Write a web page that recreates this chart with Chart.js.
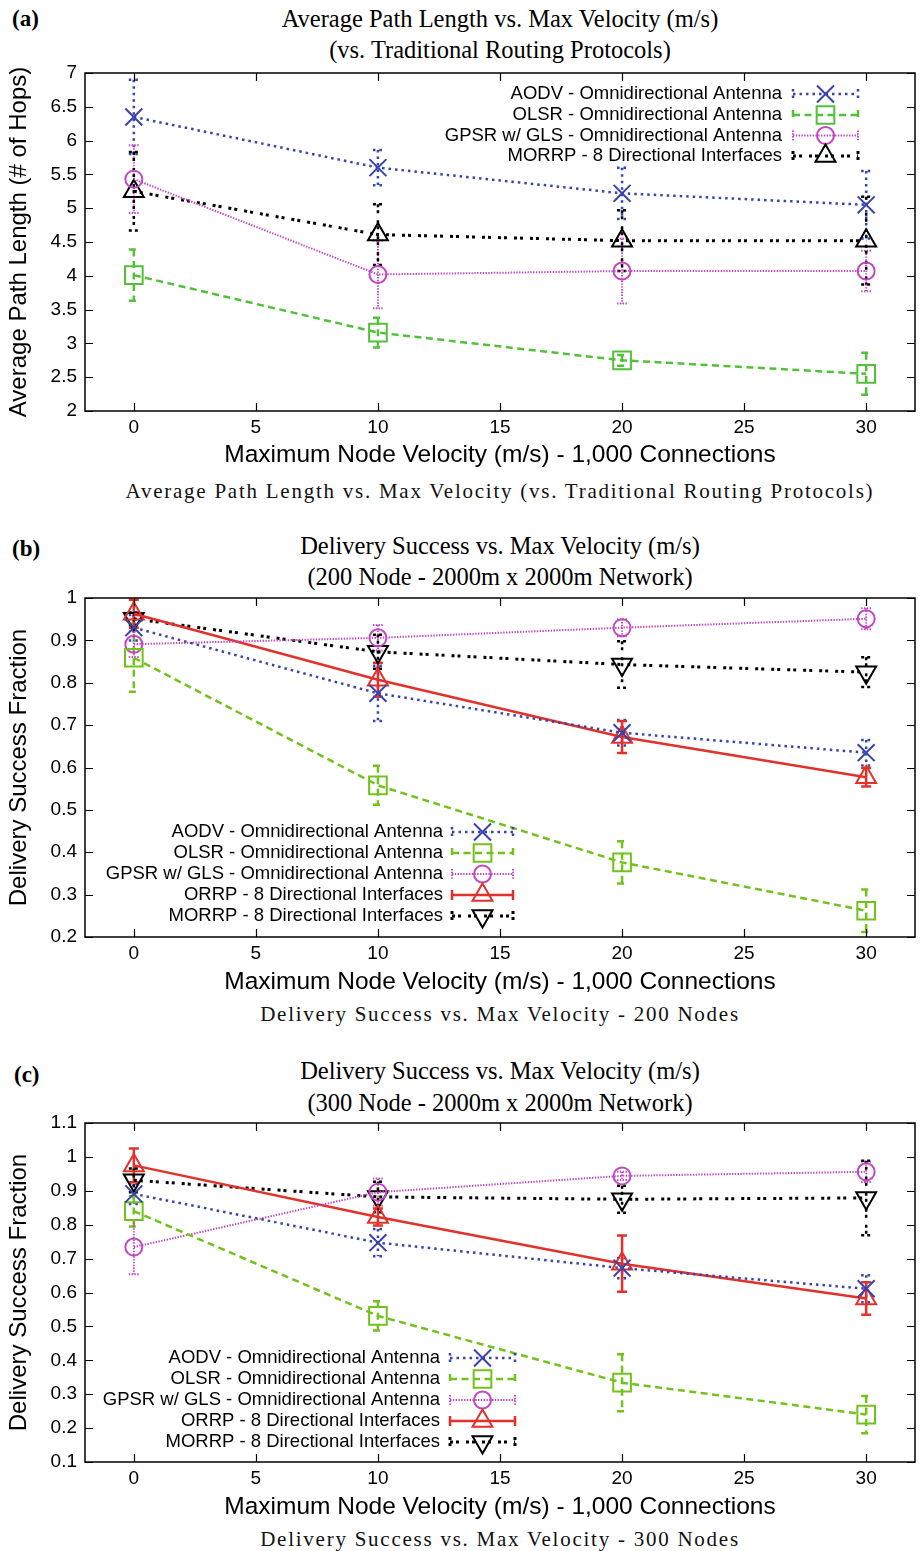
<!DOCTYPE html>
<html><head><meta charset="utf-8">
<script src="https://cdn.jsdelivr.net/npm/chart.js@4.4.1/dist/chart.umd.min.js"></script>
<style>
body{margin:0;width:920px;height:1551px;background:#fff;position:relative;overflow:hidden}
.tt{position:absolute;left:100px;width:800px;text-align:center;font-family:"Liberation Serif",serif;font-size:24.5px;line-height:30px;color:#000;white-space:nowrap}
.pl{position:absolute;font-family:"Liberation Serif",serif;font-weight:bold;font-size:23px;line-height:30px;color:#000}
.cap{position:absolute;left:100px;width:800px;text-align:center;font-family:"Liberation Serif",serif;font-size:21px;line-height:30px;letter-spacing:1.75px;color:#111;white-space:nowrap}
.cw{position:absolute;left:0;width:920px}
</style></head>
<body>
<div class="pl" style="left:12px;top:4px">(a)</div>
<div class="tt" style="top:4px">Average Path Length vs. Max Velocity (m/s)</div>
<div class="tt" style="top:35px">(vs. Traditional Routing Protocols)</div>
<div class="cw" style="top:62px;height:410px"><canvas id="ca" width="920" height="410"></canvas></div>
<div class="cap" style="top:476px">Average Path Length vs. Max Velocity (vs. Traditional Routing Protocols)</div>

<div class="pl" style="left:12px;top:534px">(b)</div>
<div class="tt" style="top:531px">Delivery Success vs. Max Velocity (m/s)</div>
<div class="tt" style="top:562px">(200 Node - 2000m x 2000m Network)</div>
<div class="cw" style="top:587px;height:412px"><canvas id="cb" width="920" height="412"></canvas></div>
<div class="cap" style="top:999px">Delivery Success vs. Max Velocity - 200 Nodes</div>

<div class="pl" style="left:14px;top:1060px">(c)</div>
<div class="tt" style="top:1056px">Delivery Success vs. Max Velocity (m/s)</div>
<div class="tt" style="top:1088px">(300 Node - 2000m x 2000m Network)</div>
<div class="cw" style="top:1112px;height:412px"><canvas id="cc" width="920" height="412"></canvas></div>
<div class="cap" style="top:1524px">Delivery Success vs. Max Velocity - 300 Nodes</div>

<script>
// ---------- data ----------
const xVals = [0, 10, 20, 30];
const xTicks = [0, 5, 10, 15, 20, 25, 30];
const aYTicks = [2, 2.5, 3, 3.5, 4, 4.5, 5, 5.5, 6, 6.5, 7];
const bYTicks = [0.2, 0.3, 0.4, 0.5, 0.6, 0.7, 0.8, 0.9, 1];
const cYTicks = [0.1, 0.2, 0.3, 0.4, 0.5, 0.6, 0.7, 0.8, 0.9, 1, 1.1];

const nameAodv = 'AODV - Omnidirectional Antenna';
const nameOlsr = 'OLSR - Omnidirectional Antenna';
const nameGpsr = 'GPSR w/ GLS - Omnidirectional Antenna';
const nameOrrp = 'ORRP - 8 Directional Interfaces';
const nameMorrp = 'MORRP - 8 Directional Interfaces';

// panel (a): average path length
const aAodv = [6.35, 5.60, 5.22, 5.05];
const aAodvErr = [0.55, 0.26, 0.38, 0.50];
const aOlsr = [4.01, 3.16, 2.75, 2.55];
const aOlsrErr = [0.38, 0.22, 0.08, 0.31];
const aGpsr = [5.43, 4.02, 4.07, 4.07];
const aGpsrErr = [0.50, 0.50, 0.48, 0.30];
const aMorrp = [5.25, 4.61, 4.52, 4.52];
const aMorrpErr = [0.58, 0.45, 0.45, 0.65];

// panel (b): delivery success, 200 nodes
const bAodv = [0.930, 0.775, 0.682, 0.635];
const bAodvErr = [0.030, 0.065, 0.030, 0.030];
const bOlsr = [0.859, 0.558, 0.376, 0.262];
const bOlsrErr = [0.080, 0.046, 0.050, 0.050];
const bGpsr = [0.891, 0.906, 0.930, 0.951];
const bGpsrErr = [0.030, 0.030, 0.020, 0.025];
const bOrrp = [0.963, 0.807, 0.672, 0.577];
const bOrrpErr = [0.033, 0.040, 0.038, 0.022];
const bMorrp = [0.951, 0.873, 0.843, 0.825];
const bMorrpErr = [0.015, 0.040, 0.055, 0.035];

// panel (c): delivery success, 300 nodes
const cAodv = [0.891, 0.747, 0.672, 0.611];
const cAodvErr = [0.030, 0.040, 0.030, 0.040];
const cOlsr = [0.840, 0.531, 0.334, 0.240];
const cOlsrErr = [0.045, 0.043, 0.084, 0.055];
const cGpsr = [0.734, 0.896, 0.944, 0.956];
const cGpsrErr = [0.080, 0.040, 0.012, 0.030];
const cOrrp = [0.975, 0.823, 0.685, 0.582];
const cOrrpErr = [0.050, 0.025, 0.083, 0.048];
const cMorrp = [0.931, 0.882, 0.875, 0.879];
const cMorrpErr = [0.035, 0.045, 0.040, 0.110];

// ---------- styles ----------
const SANS = '"Liberation Sans", Arial, sans-serif';
const stAodv = {color:'#3843ab', dash:[2.5,4], width:2.5, point:'crossRot', r:12, rot:0};
const stOlsrA = {color:'#52c13a', dash:[7,4.5], width:2.5, point:'rect', r:12.5, rot:0};
const stOlsrB = {color:'#72c21c', dash:[7,4.5], width:2.5, point:'rect', r:12.5, rot:0};
const stGpsr = {color:'#c247c2', dash:[1.4,1.4], width:2, point:'circle', r:8.5, rot:0};
const stOrrp = {color:'#e2312b', dash:[], width:2.5, point:'triangle', r:11.5, rot:0};
const stMorrpUp = {color:'#000000', dash:[3,3,3,7], width:3, point:'triangle', r:11.5, rot:0};
const stMorrpDown = {color:'#000000', dash:[3,3,3,7], width:3, point:'triangle', r:11.5, rot:180};

function ds(label, vals, errs, st) {
  return {
    label, data: xVals.map((x, i) => ({x, y: vals[i]})), err: errs, st,
    borderColor: st.color, borderWidth: st.width, borderDash: st.dash, borderCapStyle:'butt',
    pointStyle: st.point, pointRadius: st.r, pointRotation: st.rot, pointBorderWidth: 2,
    pointBorderColor: st.color, pointBackgroundColor: 'rgba(0,0,0,0)', pointHoverRadius: st.r,
    tension: 0, fill: false
  };
}

const gnuPlugin = {
  id: 'gnu',
  beforeDatasetsDraw(chart) {
    const ctx = chart.ctx, xs = chart.scales.x, ys = chart.scales.y, ca = chart.chartArea;
    ctx.save();
    ctx.beginPath(); ctx.rect(ca.left, ca.top, ca.right - ca.left, ca.bottom - ca.top); ctx.clip();
    chart.data.datasets.forEach(d => {
      const st = d.st;
      ctx.strokeStyle = st.color; ctx.lineWidth = Math.min(st.width, 2.5); ctx.setLineDash(st.dash);
      d.data.forEach((p, i) => {
        const e = d.err[i];
        const px = xs.getPixelForValue(p.x);
        const y1 = ys.getPixelForValue(p.y + e), y2 = ys.getPixelForValue(p.y - e);
        ctx.beginPath();
        ctx.moveTo(px, y1); ctx.lineTo(px, y2);
        ctx.moveTo(px - 5, y1); ctx.lineTo(px + 5, y1);
        ctx.moveTo(px - 5, y2); ctx.lineTo(px + 5, y2);
        ctx.stroke();
      });
    });
    ctx.restore();
  },
  afterDraw(chart) {
    const ctx = chart.ctx, xs = chart.scales.x, ys = chart.scales.y, ca = chart.chartArea;
    ctx.save();
    ctx.setLineDash([]); ctx.strokeStyle = '#000'; ctx.lineWidth = 1.5;
    ctx.strokeRect(ca.left, ca.top, ca.right - ca.left, ca.bottom - ca.top);
    ctx.lineWidth = 1.2;
    ctx.beginPath();
    xs.ticks.forEach(t => {
      const px = Math.round(xs.getPixelForValue(t.value)) + 0.5;
      ctx.moveTo(px, ca.bottom); ctx.lineTo(px, ca.bottom - 8);
      ctx.moveTo(px, ca.top); ctx.lineTo(px, ca.top + 8);
    });
    ys.ticks.forEach(t => {
      const py = Math.round(ys.getPixelForValue(t.value)) + 0.5;
      ctx.moveTo(ca.left, py); ctx.lineTo(ca.left + 8, py);
      ctx.moveTo(ca.right, py); ctx.lineTo(ca.right - 8, py);
    });
    ctx.stroke();
    // legend (gnuplot style)
    const L = chart.options.plugins.gnu;
    ctx.font = '18.5px ' + SANS;
    ctx.textAlign = 'right'; ctx.textBaseline = 'middle';
    chart.data.datasets.forEach((d, i) => {
      const y = L.rows[i], st = d.st;
      ctx.fillStyle = '#000';
      ctx.fillText(d.label, L.textRight, y);
      ctx.strokeStyle = st.color; ctx.lineWidth = st.width; ctx.setLineDash(st.dash);
      ctx.beginPath();
      ctx.moveTo(L.sx0, y); ctx.lineTo(L.sx1, y);
      ctx.moveTo(L.sx0, y - 5); ctx.lineTo(L.sx0, y + 5);
      ctx.moveTo(L.sx1, y - 5); ctx.lineTo(L.sx1, y + 5);
      ctx.stroke();
      ctx.setLineDash([]); ctx.lineWidth = 2; ctx.fillStyle = 'rgba(0,0,0,0)';
      Chart.helpers.drawPoint(ctx, {pointStyle: st.point, rotation: st.rot, radius: st.r, borderWidth: 2}, (L.sx0 + L.sx1) / 2, y);
    });
    ctx.restore();
  }
};

function makeChart(id, datasets, yMin, yMax, yTicks, yTitle, xAxisH, legend) {
  return new Chart(document.getElementById(id), {
    type: 'line',
    data: { datasets },
    plugins: [gnuPlugin],
    options: {
      responsive: false, animation: false, devicePixelRatio: 1,
      layout: { autoPadding: false, padding: { top: 11, right: 5, left: 0, bottom: 0 } },
      plugins: { legend: { display: false }, tooltip: { enabled: false }, gnu: legend },
      scales: {
        x: {
          type: 'linear', min: -2, max: 32,
          grid: { display: false, tickLength: 0, drawTicks: false }, border: { display: false },
          afterBuildTicks: s => { s.ticks = xTicks.map(v => ({ value: v })); },
          afterFit: s => { s.height = xAxisH; s.paddingLeft = 0; s.paddingRight = 0; },
          ticks: { color: '#000', font: { family: SANS, size: 19 }, padding: 5, maxRotation: 0, autoSkip: false, callback: v => String(v) },
          title: { display: true, text: 'Maximum Node Velocity (m/s) - 1,000 Connections', color: '#000', font: { family: SANS, size: 24.5 }, padding: { top: 0, bottom: 2 } }
        },
        y: {
          type: 'linear', min: yMin, max: yMax,
          grid: { display: false, tickLength: 0, drawTicks: false }, border: { display: false },
          afterBuildTicks: s => { s.ticks = yTicks.map(v => ({ value: v })); },
          afterFit: s => { s.width = 85; s.paddingTop = 0; s.paddingBottom = 0; },
          ticks: { color: '#000', font: { family: SANS, size: 19 }, padding: 8, autoSkip: false, callback: v => String(v) },
          title: { display: true, text: yTitle, color: '#000', font: { family: SANS, size: 24 }, padding: { top: 5, bottom: 0 } }
        }
      }
    }
  });
}

makeChart('ca', [
  ds(nameAodv, aAodv, aAodvErr, stAodv),
  ds(nameOlsr, aOlsr, aOlsrErr, stOlsrA),
  ds(nameGpsr, aGpsr, aGpsrErr, stGpsr),
  ds(nameMorrp, aMorrp, aMorrpErr, stMorrpUp)
], 2, 7, aYTicks, 'Average Path Length (# of Hops)', 61,
  { textRight: 782, sx0: 793, sx1: 858, rows: [32, 53, 73.5, 94] });

makeChart('cb', [
  ds(nameAodv, bAodv, bAodvErr, stAodv),
  ds(nameOlsr, bOlsr, bOlsrErr, stOlsrB),
  ds(nameGpsr, bGpsr, bGpsrErr, stGpsr),
  ds(nameOrrp, bOrrp, bOrrpErr, stOrrp),
  ds(nameMorrp, bMorrp, bMorrpErr, stMorrpDown)
], 0.2, 1, bYTicks, 'Delivery Success Fraction', 62,
  { textRight: 443, sx0: 452, sx1: 513, rows: [245, 266, 287, 308, 329] });

makeChart('cc', [
  ds(nameAodv, cAodv, cAodvErr, stAodv),
  ds(nameOlsr, cOlsr, cOlsrErr, stOlsrB),
  ds(nameGpsr, cGpsr, cGpsrErr, stGpsr),
  ds(nameOrrp, cOrrp, cOrrpErr, stOrrp),
  ds(nameMorrp, cMorrp, cMorrpErr, stMorrpDown)
], 0.1, 1.1, cYTicks, 'Delivery Success Fraction', 62,
  { textRight: 440, sx0: 450, sx1: 515, rows: [246, 267, 288, 309, 330] });
</script>
</body></html>
